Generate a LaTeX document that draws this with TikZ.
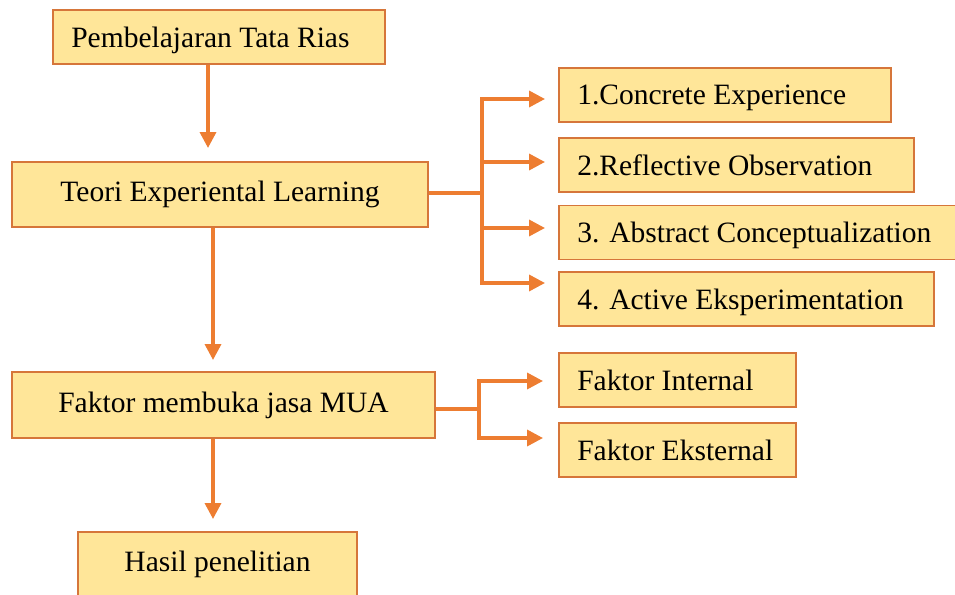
\documentclass[tikz,border=0pt]{standalone}
\usepackage{fontspec}
\setmainfont{Liberation Serif}
\usetikzlibrary{arrows.meta}
\definecolor{boxfill}{HTML}{FFE699}
\definecolor{boxline}{HTML}{D6763A}
\definecolor{arrowline}{HTML}{ED7D31}
\tikzset{
  box/.style={draw=boxline,fill=boxfill,line width=0.9pt,font=\fontsize{16.8}{20}\selectfont,inner sep=0pt},
  mainbox/.style={box,minimum height=1.3cm},
  itembox/.style={box,anchor=west,align=flush left,inner xsep=0.37cm,minimum height=1.08cm,text width=#1,text depth=0pt},
  link/.style={arrowline,line width=2pt},
  linkarrow/.style={link,-{Triangle[length=9pt,width=9pt]}},
}
\begin{document}
\begin{tikzpicture}[x=0.02cm,y=-0.02cm]
        \useasboundingbox (0,0) rectangle (955,594);

        \node[itembox=5.90cm] (tatarias) at (52,37) {Pembelajaran Tata Rias};
        \node[mainbox,minimum width=8.32cm] (teori)  at (220,194.5) {Teori Experiental Learning};
        \node[mainbox,minimum width=8.46cm,minimum height=1.32cm] (faktor) at (223.5,405) {Faktor membuka jasa MUA};
        \node[mainbox,minimum width=5.58cm] (hasil)  at (217.5,564.5) {Hasil penelitian};

        \node[itembox=5.90cm] (tahap1) at (558,95)    {1.Concrete Experience};
        \node[itembox=6.36cm] (tahap2) at (558,165)   {2.Reflective Observation};
        \node[itembox=7.30cm] (tahap3) at (558,232.5) {3. Abstract Conceptualization};
        \node[itembox=6.76cm] (tahap4) at (558,299)   {4. Active Eksperimentation};
        \node[itembox=4.00cm] (internal) at (558,380) {Faktor Internal};
        \node[itembox=4.00cm] (eksternal) at (558,450) {Faktor Eksternal};

        % ujung panah dan titik cabang
        \coordinate (ke1) at (208,148);
        \coordinate (ke2) at (213,360);
        \coordinate (ke3) at (213,519);
        \coordinate (cabang1) at (482,193);
        \coordinate (cabang2) at (479,409);
        \coordinate (ujung1) at (545,99);
        \coordinate (ujung2) at (545,162);
        \coordinate (ujung3) at (545,228);
        \coordinate (ujung4) at (545,283);
        \coordinate (ujung5) at (543,381);
        \coordinate (ujung6) at (543,438);

        \draw[linkarrow] (tatarias.south -| ke1) to (ke1);
        \draw[linkarrow] (teori.south -| ke2) to (ke2);
        \draw[linkarrow] (faktor.south -| ke3) to (ke3);

        \draw[link] (teori.east |- cabang1) to (cabang1);
        \draw[link,line cap=rect] (cabang1 |- ujung1) to (cabang1 |- ujung4);
        \draw[linkarrow] (cabang1 |- ujung1) to (ujung1);
        \draw[linkarrow] (cabang1 |- ujung2) to (ujung2);
        \draw[linkarrow] (cabang1 |- ujung3) to (ujung3);
        \draw[linkarrow] (cabang1 |- ujung4) to (ujung4);

        \draw[link] (faktor.east |- cabang2) to (cabang2);
        \draw[link,line cap=rect] (cabang2 |- ujung5) to (cabang2 |- ujung6);
        \draw[linkarrow] (cabang2 |- ujung5) to (ujung5);
        \draw[linkarrow] (cabang2 |- ujung6) to (ujung6);
      \end{tikzpicture}
\end{document}
